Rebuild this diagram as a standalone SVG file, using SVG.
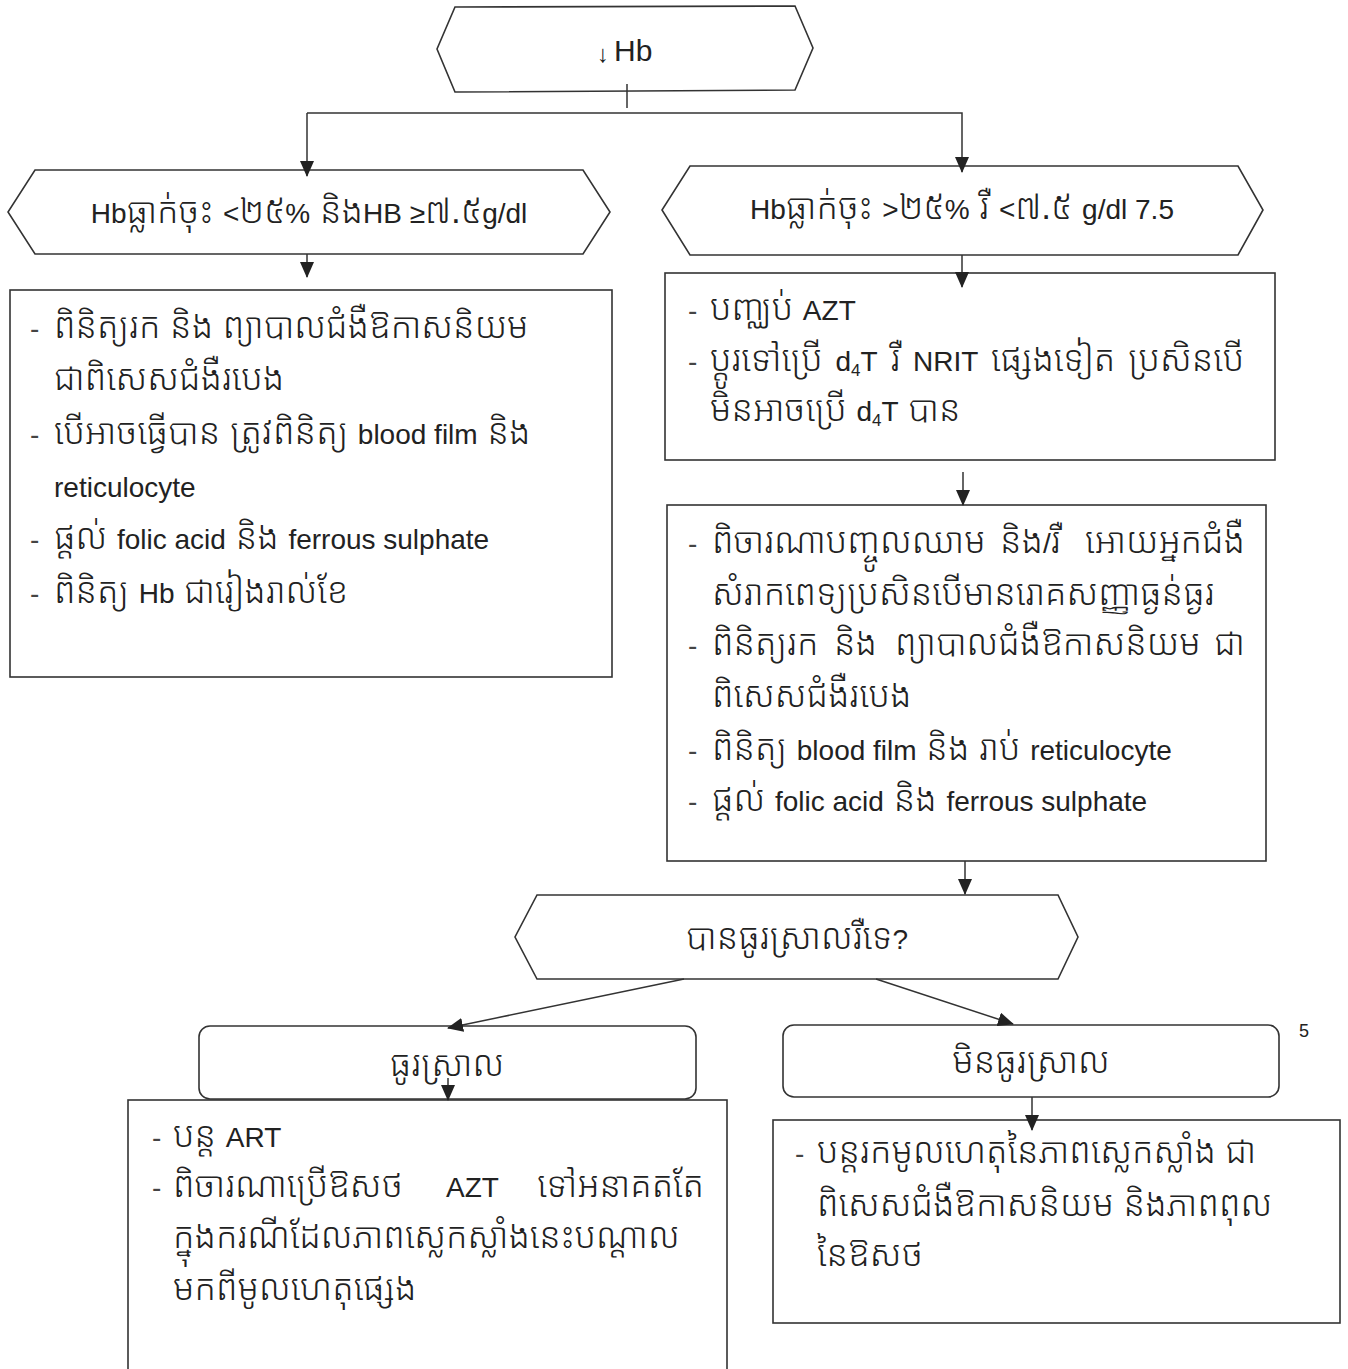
<svg xmlns="http://www.w3.org/2000/svg" width="1348" height="1369" viewBox="0 0 1348 1369">
<defs>
<marker id="ah" viewBox="0 0 16 14" refX="15" refY="7" markerWidth="16" markerHeight="14" markerUnits="userSpaceOnUse" orient="auto">
<path d="M0,0 L16,7 L0,14 Z" fill="#222"/>
</marker>
<style>
.shape{fill:#fff;stroke:#333;stroke-width:1.6}
.conn{fill:none;stroke:#333;stroke-width:1.5}
text{font-family:"Liberation Sans","Noto Sans Khmer","Khmer OS",sans-serif;font-size:35px;font-weight:300;fill:#222}
.l{font-size:28px;font-weight:400}
.c{text-anchor:middle}
.e{text-anchor:end}
.d{fill:#444;font-size:28px;font-weight:400}
</style>
</defs>
<rect width="1348" height="1369" fill="#fff"/>
<g id="n-hb">
<polygon class="shape" points="455,7 795,6 813,48 795,90 455,92 437,49"/>
<text x="597" y="62" style="font-size:24px;font-weight:400">↓</text><text x="614" y="61" style="font-size:30px;font-weight:400">Hb</text>
</g>
<g id="n-drop-small">
<polygon class="shape" points="35,170 583,170 610,212 583,254 35,254 8,212"/>
<text x="309" y="223" class="c"><tspan class="l">Hb</tspan>ធ្លាក់ចុះ <tspan class="l">&lt;</tspan>២៥<tspan class="l">%</tspan> និង<tspan class="l">HB ≥</tspan>៧.៥<tspan class="l">g/dl</tspan></text>
</g>
<g id="n-drop-large">
<polygon class="shape" points="690,166 1238,166 1263,210 1238,255 690,255 662,210"/>
<text x="962" y="219" class="c"><tspan class="l">Hb</tspan>ធ្លាក់ចុះ <tspan class="l">&gt;</tspan>២៥<tspan class="l">%</tspan> រឺ <tspan class="l">&lt;</tspan>៧.៥ <tspan class="l">g/dl 7.5</tspan></text>
</g>
<g id="n-left-actions">
<rect class="shape" x="10" y="290" width="602" height="387"/>
<text x="30" y="338" class="d">-</text><text x="54" y="338">ពិនិត្យរក និង ព្យាបាលជំងឺឱកាសនិយម</text>
<text x="54" y="390">ជាពិសេសជំងឺរបេង</text>
<text x="30" y="444" class="d">-</text><text x="54" y="444">បើអាចធ្វើបាន ត្រូវពិនិត្យ <tspan class="l">blood film</tspan> និង</text>
<text x="54" y="497" class="l">reticulocyte</text>
<text x="30" y="549" class="d">-</text><text x="54" y="549">ផ្តល់ <tspan class="l">folic acid</tspan> និង <tspan class="l">ferrous sulphate</tspan></text>
<text x="30" y="603" class="d">-</text><text x="54" y="603">ពិនិត្យ <tspan class="l">Hb</tspan> ជារៀងរាល់ខែ</text>
</g>
<g id="n-stop-azt">
<rect class="shape" x="665" y="273" width="610" height="187"/>
<text x="688" y="320" class="d">-</text><text x="710" y="320">បញ្ឈប់ <tspan class="l">AZT</tspan></text>
<text x="688" y="371" class="d">-</text><text x="710" y="371" word-spacing="3">ប្តូរទៅប្រើ <tspan class="l">d</tspan><tspan font-size="17" font-weight="400" dy="5">4</tspan><tspan class="l" dy="-5">T</tspan> រឺ <tspan class="l">NRIT</tspan> ផ្សេងទៀត ប្រសិនបើ</text>
<text x="710" y="421">មិនអាចប្រើ <tspan class="l">d</tspan><tspan font-size="17" font-weight="400" dy="5">4</tspan><tspan class="l" dy="-5">T</tspan> បាន</text>
</g>
<g id="n-right-actions">
<rect class="shape" x="667" y="505" width="599" height="356"/>
<text x="688" y="553" class="d">-</text><text x="712" y="553">ពិចារណាបញ្ចូលឈាម</text><text x="1000" y="553">និង<tspan class="l">/</tspan>រឺ</text><text x="1245" y="553" class="e">អោយអ្នកជំងឺ</text>
<text x="712" y="605">សំរាកពេទ្យប្រសិនបើមានរោគសញ្ញាធ្ងន់ធ្ងរ</text>
<text x="688" y="655" class="d">-</text><text x="712" y="655">ពិនិត្យរក</text><text x="834" y="655">និង</text><text x="895" y="655">ព្យាបាលជំងឺឱកាសនិយម</text><text x="1245" y="655" class="e">ជា</text>
<text x="712" y="707">ពិសេសជំងឺរបេង</text>
<text x="688" y="760" class="d">-</text><text x="712" y="760">ពិនិត្យ <tspan class="l">blood film</tspan> និង រាប់ <tspan class="l">reticulocyte</tspan></text>
<text x="688" y="811" class="d">-</text><text x="712" y="811">ផ្តល់ <tspan class="l">folic acid</tspan> និង <tspan class="l">ferrous sulphate</tspan></text>
</g>
<g id="n-improved-q">
<polygon class="shape" points="537,895 1058,895 1078,937 1058,979 537,979 515,937"/>
<text x="797" y="949" class="c">បានធូរស្រាលរឺទេ<tspan class="l">?</tspan></text>
</g>
<g id="n-yes">
<rect class="shape" x="199" y="1026" width="497" height="73" rx="11"/>
<text x="447" y="1076" class="c">ធូរស្រាល</text>
</g>
<g id="n-no">
<rect class="shape" x="783" y="1025" width="496" height="72" rx="11"/>
<text x="1031" y="1073" class="c">មិនធូរស្រាល</text>
</g>
<g id="n-continue">
<rect class="shape" x="128" y="1100" width="599" height="280"/>
<text x="152" y="1147" class="d">-</text><text x="173" y="1147">បន្ត <tspan class="l">ART</tspan></text>
<text x="152" y="1197" class="d">-</text><text x="173" y="1197">ពិចារណាប្រើឱសថ</text><text x="446" y="1197" class="l">AZT</text><text x="704" y="1197" class="e">ទៅអនាគតតែ</text>
<text x="173" y="1248">ក្នុងករណីដែលភាពស្លេកស្លាំងនេះបណ្តាល</text>
<text x="173" y="1300">មកពីមូលហេតុផ្សេង</text>
</g>
<g id="n-investigate">
<rect class="shape" x="773" y="1120" width="567" height="203"/>
<text x="795" y="1163" class="d">-</text><text x="817" y="1163">បន្តរកមូលហេតុនៃភាពស្លេកស្លាំង ជា</text>
<text x="817" y="1216">ពិសេសជំងឺឱកាសនិយម និងភាពពុល</text>
<text x="817" y="1266">នៃឱសថ</text>
</g>
<text x="1304" y="1037" class="c" style="font-size:18px;font-weight:400">5</text>
<g id="connectors">
<line class="conn" x1="627" y1="84" x2="627" y2="108"/>
<polyline class="conn" points="307,113 962,113 962,172" marker-end="url(#ah)"/>
<line class="conn" x1="307" y1="113" x2="307" y2="176" marker-end="url(#ah)"/>
<line class="conn" x1="307" y1="254" x2="307" y2="277" marker-end="url(#ah)"/>
<line class="conn" x1="962" y1="255" x2="962" y2="287" marker-end="url(#ah)"/>
<line class="conn" x1="963" y1="472" x2="963" y2="505" marker-end="url(#ah)"/>
<line class="conn" x1="965" y1="861" x2="965" y2="894" marker-end="url(#ah)"/>
<line class="conn" x1="684" y1="979" x2="448" y2="1028" marker-end="url(#ah)"/>
<line class="conn" x1="876" y1="979" x2="1013" y2="1024" marker-end="url(#ah)"/>
<line class="conn" x1="448" y1="1078" x2="448" y2="1100" marker-end="url(#ah)"/>
<line class="conn" x1="1032" y1="1097" x2="1032" y2="1130" marker-end="url(#ah)"/>
</g>
</svg>
